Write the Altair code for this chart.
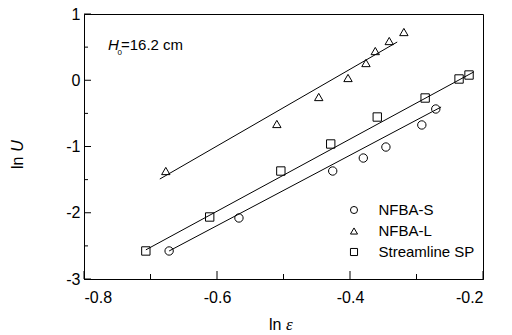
import altair as alt
import pandas as pd

# ---- data ----
s_x = [-0.672, -0.567, -0.426, -0.380, -0.346, -0.292, -0.271]
s_y = [-2.577, -2.079, -1.370, -1.174, -1.008, -0.675, -0.434]
l_x = [-0.677, -0.510, -0.447, -0.403, -0.376, -0.362, -0.341, -0.319]
l_y = [-1.370, -0.660, -0.253, 0.034, 0.260, 0.441, 0.592, 0.728]
sp_x = [-0.707, -0.611, -0.504, -0.429, -0.359, -0.287, -0.236, -0.221]
sp_y = [-2.577, -2.064, -1.370, -0.962, -0.555, -0.268, 0.019, 0.079]

# fitted lines (endpoints)
fit_s_x = [-0.672, -0.263]
fit_s_y = [-2.577, -0.404]
fit_l_x = [-0.686, -0.329]
fit_l_y = [-1.491, 0.577]
fit_sp_x = [-0.707, -0.214]
fit_sp_y = [-2.560, 0.125]

series = ["NFBA-S", "NFBA-L", "Streamline SP"]
shapes = ["circle", "triangle-up", "square"]

x_major = [-0.8, -0.6, -0.4, -0.2]
x_minor = [-0.7, -0.5, -0.3]
y_major = [-3, -2, -1, 0, 1]
y_minor = [-2.5, -1.5, -0.5, 0.5]

W, H = 399, 265
FONT = "Liberation Sans"

pts = pd.concat([
    pd.DataFrame({"x": s_x, "y": s_y, "series": series[0]}),
    pd.DataFrame({"x": l_x, "y": l_y, "series": series[1]}),
    pd.DataFrame({"x": sp_x, "y": sp_y, "series": series[2]}),
])
fits = pd.concat([
    pd.DataFrame({"x": fit_s_x, "y": fit_s_y, "series": series[0]}),
    pd.DataFrame({"x": fit_l_x, "y": fit_l_y, "series": series[1]}),
    pd.DataFrame({"x": fit_sp_x, "y": fit_sp_y, "series": series[2]}),
])

xscale = alt.Scale(domain=[-0.8, -0.2], nice=False, zero=False)
yscale = alt.Scale(domain=[-3, 1], nice=False, zero=False)
xaxis = alt.Axis(values=x_major, ticks=False, tickSize=0, labelPadding=10,
                 labelFontSize=16, labelFont=FONT, labelColor="black",
                 domainColor="black", grid=False, title=None,
                 labelExpr="datum.value < 0 ? '-' + format(-datum.value, '.1f') : format(datum.value, '.1f')")
yaxis = alt.Axis(values=y_major, ticks=False, tickSize=0, labelPadding=4,
                 labelFontSize=16, labelFont=FONT, labelColor="black",
                 domainColor="black", grid=False, title=None,
                 labelExpr="datum.value < 0 ? '-' + format(-datum.value, 'd') : format(datum.value, 'd')")

X = lambda f: alt.X(f, type="quantitative", scale=xscale, axis=xaxis)
Y = lambda f: alt.Y(f, type="quantitative", scale=yscale, axis=yaxis)

lines = alt.Chart(fits).mark_line(color="black", strokeWidth=1).encode(
    x=X("x"), y=Y("y"), detail="series:N")

points = alt.Chart(pts).mark_point(filled=False, color="black", strokeWidth=1, size=70, opacity=1).encode(
    x=X("x"), y=Y("y"),
    shape=alt.Shape("series:N", scale=alt.Scale(domain=series, range=shapes),
                    legend=alt.Legend(title=None, orient="none", legendX=262.5, legendY=188.5,
                                      labelFontSize=15, labelFont=FONT, labelColor="black",
                                      symbolSize=50, symbolStrokeColor="black", symbolStrokeWidth=1,
                                      symbolFillColor="transparent", labelOffset=17, rowPadding=5,
                                      padding=0)),
)

xt_major = alt.Chart(pd.DataFrame({"v": x_major})).mark_rule(color="black", strokeWidth=1).encode(
    x=X("v"), y=alt.value(H), y2=alt.value(H - 8))
xt_minor = alt.Chart(pd.DataFrame({"v": x_minor})).mark_rule(color="black", strokeWidth=1).encode(
    x=X("v"), y=alt.value(H), y2=alt.value(H - 5))
yt_major = alt.Chart(pd.DataFrame({"v": y_major})).mark_rule(color="black", strokeWidth=1).encode(
    y=Y("v"), x=alt.value(0), x2=alt.value(7))
yt_minor = alt.Chart(pd.DataFrame({"v": y_minor})).mark_rule(color="black", strokeWidth=1).encode(
    y=Y("v"), x=alt.value(0), x2=alt.value(4))

one = pd.DataFrame({"a": [0]})

def txt(t, x, y, size=16, style="normal", font=FONT, align="center", baseline="middle", angle=0):
    return alt.Chart(one).mark_text(text=t, fontSize=size, fontStyle=style, font=font,
                                    align=align, baseline=baseline, angle=angle,
                                    color="black").encode(x=alt.value(x), y=alt.value(y))

annot = (
    txt("H", 24, 36, size=15, style="italic", align="left", baseline="alphabetic")
    + txt("0", 33.5, 41, size=8, align="left", baseline="alphabetic")
    + txt("=16.2 cm", 37, 36, size=15, align="left", baseline="alphabetic")
)

titles = (
    txt("ln", 185, 316, size=16, align="left", baseline="alphabetic")
    + txt("ε", 202, 316, size=17, style="italic", font="Liberation Serif", align="left", baseline="alphabetic")
    + txt("ln", -61, 148.8, size=16, angle=270, baseline="alphabetic")
    + txt("U", -61, 132, size=16, style="italic", angle=270, baseline="alphabetic")
)

chart = alt.layer(lines, points, xt_major, xt_minor, yt_major, yt_minor, annot, titles).properties(
    width=W, height=H,
    autosize=alt.AutoSizeParams(type="none"),
    padding={"left": 84, "top": 14, "right": 29, "bottom": 56},
    background="white",
).configure_view(stroke="black", strokeWidth=1).configure_axis(domainWidth=1)

chart.save("out.html", embed_options={"renderer": "svg", "actions": False})
